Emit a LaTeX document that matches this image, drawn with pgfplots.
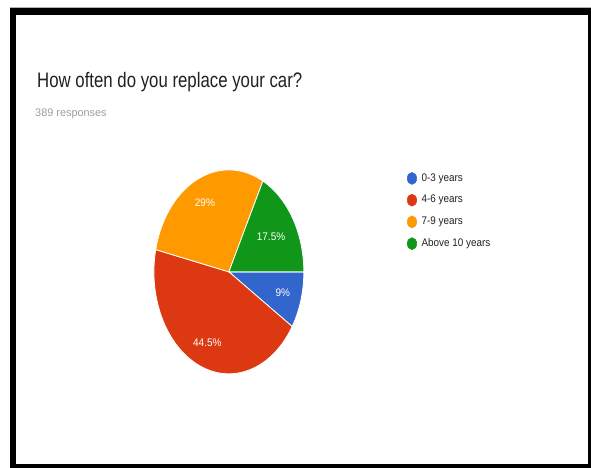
\documentclass[border=0pt]{standalone}
\usepackage{pgfplots}
\pgfplotsset{compat=1.18}
\usepackage{pgfplotstable}
\usepackage{fontspec}
\setmainfont{Liberation Sans}[FakeStretch=0.8]
\definecolor{gBlue}{HTML}{3366CC}
\definecolor{gRed}{HTML}{DC3912}
\definecolor{gOrange}{HTML}{FF9900}
\definecolor{gGreen}{HTML}{109618}
\definecolor{titlegray}{HTML}{212121}
\definecolor{subgray}{HTML}{9E9E9E}
\definecolor{leggray}{HTML}{222222}

\pgfplotstableread{
label value
0-3 9
4-6 44.5
7-9 29
10+ 17.5
}\piedata

\newcommand\pieslice[3]{%
  \fill[#3, draw=white, line width=0.6pt] (axis cs:229,272) -- ++(#1:56.25pt and 76.5pt)
    arc[start angle=#1, end angle=#2, x radius=56.25pt, y radius=76.5pt] -- cycle;}
% #1 angle, #2 value, #3 radius fraction
\newcommand\plabel[3]{%
  \path (axis cs:229,272) ++(#1:{#3*56.25pt} and {#3*76.5pt}) node[text=white, inner sep=0pt, font=\fontsize{8.25}{10}\selectfont\addfontfeatures{FakeStretch=0.91}] {#2\%};}

\begin{document}
\begin{tikzpicture}
\pgfplotstablegetelem{0}{value}\of\piedata \let\vA\pgfplotsretval
\pgfplotstablegetelem{1}{value}\of\piedata \let\vB\pgfplotsretval
\pgfplotstablegetelem{2}{value}\of\piedata \let\vC\pgfplotsretval
\pgfplotstablegetelem{3}{value}\of\piedata \let\vD\pgfplotsretval
\pgfmathsetmacro\aA{0}
\pgfmathsetmacro\aB{\aA-3.6*\vA}
\pgfmathsetmacro\aC{\aB-3.6*\vB}
\pgfmathsetmacro\aD{\aC-3.6*\vC}
\pgfmathsetmacro\aE{\aD-3.6*\vD}
\pgfmathsetmacro\mA{(\aA+\aB)/2}
\pgfmathsetmacro\mB{(\aB+\aC)/2}
\pgfmathsetmacro\mC{(\aC+\aD)/2}
\pgfmathsetmacro\mD{(\aD+\aE)/2}
\begin{axis}[
  scale only axis, width=443.25pt, height=351pt,
  xmin=0, xmax=591, ymin=0, ymax=468, y dir=reverse,
  hide axis, clip=false,
  legend style={at={(axis cs:407,172)}, anchor=north west, draw=none, fill=none,
    font=\fontsize{8.25}{10}\selectfont\addfontfeatures{FakeStretch=0.9}, text=leggray, row sep=6.9pt, inner sep=0pt,
    nodes={inner sep=1pt},
    /tikz/every odd column/.append style={column sep=2.5pt}},
  legend cell align=left,
]
\fill[white] (axis cs:0,0) rectangle (axis cs:591,468);
\fill[black] (axis cs:10,8) rectangle (axis cs:591,468);
\fill[white] (axis cs:16,15) rectangle (axis cs:588,464);
\draw[gray!60, line width=0.5pt] (axis cs:10,7) -- (axis cs:591,7);

\node[anchor=base west, inner sep=0pt, text=titlegray, font=\fontsize{15.75}{18}\selectfont] at (axis cs:37,88) {How often do you replace your car?};
\node[anchor=base west, inner sep=0pt, text=subgray, font=\fontsize{8.25}{10}\selectfont\addfontfeatures{FakeStretch=0.99}] at (axis cs:35,117) {389 responses};

\pieslice{\aA}{\aB}{gBlue}
\pieslice{\aB}{\aC}{gRed}
\pieslice{\aC}{\aD}{gOrange}
\pieslice{\aD}{\aE}{gGreen}
\plabel{\mA}{\vA}{0.75}
\plabel{\mB}{\vB}{0.75}
\plabel{\mC}{\vC}{0.75}
\plabel{\mD}{\vD}{0.66}

\addlegendimage{legend image code/.code={\fill[gBlue] (0.3em,0pt) ellipse (3.5pt and 4.5pt);}}
\addlegendentry{0-3 years}
\addlegendimage{legend image code/.code={\fill[gRed] (0.3em,0pt) ellipse (3.5pt and 4.5pt);}}
\addlegendentry{4-6 years}
\addlegendimage{legend image code/.code={\fill[gOrange] (0.3em,0pt) ellipse (3.5pt and 4.5pt);}}
\addlegendentry{7-9 years}
\addlegendimage{legend image code/.code={\fill[gGreen] (0.3em,0pt) ellipse (3.5pt and 4.5pt);}}
\addlegendentry{Above 10 years}
\end{axis}
\end{tikzpicture}
\end{document}
